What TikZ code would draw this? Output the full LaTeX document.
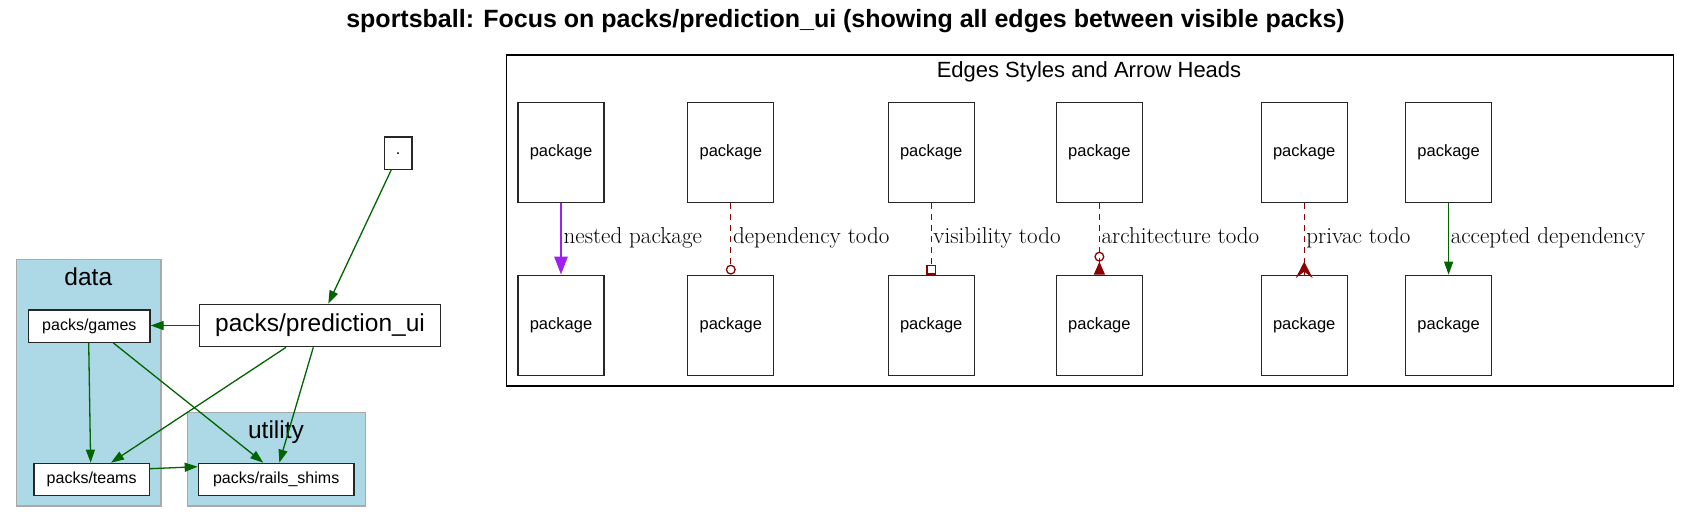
\documentclass[tikz,border=0pt]{standalone}
\usepackage{fontspec}
\newfontfamily\arial{Liberation Sans}
\usetikzlibrary{arrows.meta,calc}
\definecolor{dgreen}{HTML}{006400}
\definecolor{dred}{HTML}{8B0000}
\definecolor{vpurple}{HTML}{A020F0}
\definecolor{lblue}{HTML}{ADD8E6}
\definecolor{cgray}{HTML}{A9A9A9}
\begin{document}
\begin{tikzpicture}[x=1pt,y=-1pt,
  pkg/.style={draw=black!85, line width=1.3pt, fill=white, inner sep=0pt,
    minimum width=86pt, minimum height=100pt, font=\arial\fontsize{16.5}{18}\selectfont},
  box/.style={draw=black!85, line width=1.3pt, fill=white, inner sep=0pt,
    font=\arial\fontsize{16}{18}\selectfont},
  cluster/.style={draw=cgray, line width=1.3pt, fill=lblue, inner sep=0pt},
  clabel/.style={font=\arial\fontsize{24.5}{28}\selectfont, inner sep=0pt},
  dep/.style={draw=dgreen, line width=1.3pt, -{Triangle[length=13pt,width=9pt]}},
  todo/.style={draw=dred, line width=1.3pt, dash pattern=on 6pt off 5pt},
  nestedarr/.style={draw=vpurple, line width=2.7pt, -{Triangle[length=18pt,width=13pt]}},
  elabel/.style={anchor=base west, inner sep=0pt, font=\fontsize{23}{26}\selectfont},
]
\useasboundingbox (0,0) rectangle (1690,523);

% title
\node[font=\arial\bfseries\fontsize{25}{30}\selectfont, inner sep=0pt] (title) at (845.5,21.5)
  {sportsball: Focus on packs/prediction\_ui (showing all edges between visible packs)};

% clusters
\node[cluster, minimum width=144.3pt, minimum height=246.7pt] (data) at (88.85,382.65) {};
\node[clabel] (datalbl) at (88.3,276.7) {data};
\node[cluster, minimum width=178.4pt, minimum height=93.3pt] (utility) at (276.5,459.35) {};
\node[clabel] (utillbl) at (276,431.7) {utility};

% nodes
\node[box, minimum width=121.3pt, minimum height=32.3pt] (games) at (89.35,326.15) {packs/games};
\node[box, minimum width=115.3pt, minimum height=32.4pt] (teams) at (91.65,479.5) {packs/teams};
\node[box, minimum width=155.7pt, minimum height=32.4pt] (rails) at (276.15,479.5) {packs/rails\_shims};
\node[box, minimum width=241.4pt, minimum height=42.4pt, font=\arial\fontsize{24.5}{28}\selectfont] (focus) at (320,325.5) {packs/prediction\_ui};
\node[box, minimum width=27.5pt, minimum height=32.3pt] (dot) at (398.2,153.2) {.};

% edges
\draw[dep] ([xshift=-7pt]dot.south) -- ([xshift=8.3pt]focus.north);
\draw[dep] (focus.west) -- (focus.west -| games.east);
\draw[dep] ([xshift=-34pt]focus.south) -- ([xshift=19.4pt]teams.north);
\draw[dep] ([xshift=-6.7pt]focus.south) -- ([xshift=3.2pt]rails.north);
\draw[dep] ([xshift=-0.65pt]games.south) -- ([xshift=-1pt]teams.north);
\draw[dep] ([xshift=24pt]games.south) -- ([xshift=-12.9pt]rails.north);
\draw[dep] ([yshift=10.8pt]teams.east) -- ([yshift=12.8pt]rails.west);

% legend
\node[draw=black, line width=1.3pt, minimum width=1166.6pt, minimum height=331pt, inner sep=0pt] (legend) at (1090,220.5) {};
\node[font=\arial\fontsize{22}{26}\selectfont, inner sep=0pt] (legtitle) at (1089,72.2) {Edges Styles and Arrow Heads};

\foreach \i/\x in {1/561,2/730.8,3/931.2,4/1099.4,5/1304.2,6/1448.6}{
  \node[pkg] (t\i) at (\x,152.5) {package};
  \node[pkg] (b\i) at (\x,325.3) {package};
}

\draw[nestedarr] (t1) -- (b1);
\node[elabel] (l1) at (563.5,243) {nested package};

\draw[todo, -{Circle[open,length=10pt,width=10pt]}] (t2) -- (b2);
\node[elabel] (l2) at (732.8,243) {dependency todo};

\draw[todo, -{Square[open,length=10pt,width=10pt]}] (t3) -- (b3);
\node[elabel] (l3) at (933.2,243) {visibility todo};

\draw[todo, -{Circle[open,length=10pt,width=10pt] Triangle[reversed,length=13pt,width=11pt]}] (t4) -- (b4);
\node[elabel] (l4) at (1101.4,243) {architecture todo};

\draw[todo] (t5) -- (b5);
\fill[dred] ($(b5.north)+(-8.5,3.5)$) -- ($(b5.north)+(0,-13)$) -- ($(b5.north)+(8.5,3.5)$) -- ($(b5.north)+(0,-3)$) -- cycle;
\node[elabel] (l5) at (1306.2,243) {privac todo};

\draw[dep] (t6) -- (b6);
\node[elabel] (l6) at (1450.6,243) {accepted dependency};
\end{tikzpicture}
\end{document}
